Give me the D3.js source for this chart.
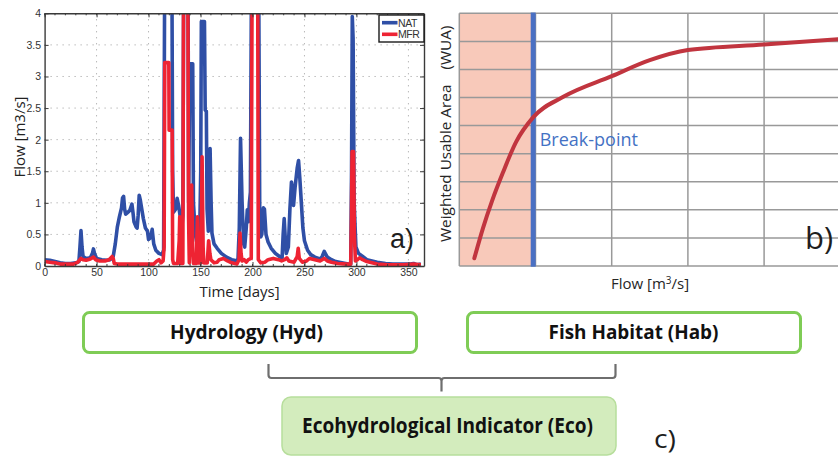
<!DOCTYPE html>
<html>
<head>
<meta charset="utf-8">
<script src="https://cdn.jsdelivr.net/npm/d3@7"></script>
<style>
  body { margin: 0; background: #fff; }
  svg { display: block; }
</style>
</head>
<body>
<svg id="fig" width="838" height="456"></svg>
<script>
// ---------- panel a) daily flow series, [day, m3/s] ----------
const natFlow = [
  [0,0.10],[5,0.09],[10,0.07],[15,0.05],[20,0.04],[25,0.04],[30,0.05],[33,0.07],[34,0.3],[35,0.56],[36,0.3],
  [37,0.15],[40,0.12],[44,0.13],[46,0.2],[47,0.27],[48,0.2],[50,0.12],[55,0.1],[60,0.09],[63,0.1],[66,0.15],
  [68,0.35],[70,0.62],[72,0.78],[74,0.92],[75,1.08],[76,1.1],[77,0.9],[78,0.82],[80,0.85],[82,0.88],[84,0.98],
  [85,0.85],[86,0.7],[88,0.62],[89,0.6],[90,0.8],[91,1.12],[92,1.05],[93,0.95],[95,0.75],[97,0.6],[99,0.55],
  [100,0.42],[102,0.45],[103.5,0.58],[105,0.35],[107,0.25],[110,0.2],[113,0.18],[114.5,0.25],[115.5,4.5],
  [122.5,4.5],[123.2,1.5],[124,0.85],[126,0.9],[127.5,1.07],[129,0.95],[131,0.72],[132,0.6],[133,0.8],
  [133.8,4.5],[138,4.5],[138.6,1.0],[139.3,2.5],[139.8,3.2],[142.5,3.2],[143.2,1.0],[145,0.5],[147,0.32],
  [149,0.3],[150.2,1.5],[150.8,3.87],[153.8,3.87],[154.5,2.47],[155.6,2.45],[156.3,0.9],[157.5,0.55],
  [159.2,1.86],[160.2,1.0],[161,0.52],[163,0.35],[166,0.28],[170,0.2],[175,0.14],[180,0.1],[186,0.08],
  [187.3,0.6],[188.5,2.02],[190,1.0],[191.5,0.35],[192.5,0.3],[194,0.6],[195,0.89],[196,0.7],[197,1.0],
  [198,1.17],[199,4.5],[206,4.5],[207,0.7],[208,0.46],[209,0.5],[210.5,0.92],[211.5,0.9],[213,0.5],
  [215,0.38],[218,0.28],[222,0.2],[226,0.15],[228.5,0.13],[229.5,0.5],[230.5,0.75],[231.5,0.45],[232.5,0.2],
  [234.5,0.3],[236,0.9],[237.5,1.33],[238.5,1.2],[239.5,0.96],[241,1.25],[243,1.55],[244.3,1.67],
  [245.5,1.4],[247,1.0],[248.5,0.6],[250,0.4],[253,0.25],[256,0.18],[260,0.14],[265,0.11],[267,0.15],
  [269,0.23],[270,0.2],[272,0.14],[276,0.1],[280,0.07],[286,0.05],[292,0.03],[294.5,0.03],[295.3,1.5],
  [296,3.95],[296.8,3.6],[297.8,1.0],[299.5,0.3],[302,0.2],[306,0.15],[310,0.1],[315,0.08],[320,0.06],
  [328,0.04],[335,0.03],[345,0.03],[352,0.03],[355,0.04],[358,0.02],[362,0.03]
];
const mfrFlow = [
  [0,0.07],[5,0.06],[10,0.05],[15,0.03],[20,0.03],[28,0.03],[32,0.06],[35,0.12],[37,0.1],[40,0.09],
  [44,0.11],[47,0.14],[49,0.1],[53,0.08],[58,0.08],[62,0.1],[65,0.15],[66,0.12],[67,0.04],[70,0.03],
  [90,0.03],[105,0.03],[108,0.08],[110,0.1],[112,0.05],[114,0.08],[115,0.3],[115.6,3.22],[119.5,3.22],
  [119.8,2.15],[122.7,2.15],[123.2,0.1],[124,0.04],[128,0.04],[129.5,0.4],[130,0.78],[130.5,0.3],[131,0.04],
  [133,0.04],[133.7,4.5],[137.8,4.5],[138.5,0.78],[139.2,0.05],[140.3,0.6],[141.5,1.28],[142.5,0.3],
  [143.2,0.04],[146,0.04],[147,0.78],[148,0.05],[150.5,0.05],[151.5,1.73],[152.5,0.3],[153.2,0.05],
  [156.5,0.05],[157.8,0.4],[159,0.2],[160,0.1],[163,0.05],[166,0.06],[168,0.1],[172,0.12],[176,0.08],
  [180,0.05],[185,0.03],[187,0.1],[188,0.52],[189,0.2],[190,0.08],[192,0.1],[194,0.06],[196,0.1],
  [198.8,0.12],[199.6,4.5],[205,4.5],[205.6,0.1],[208,0.05],[212,0.06],[215,0.1],[220,0.12],[225,0.1],
  [228,0.08],[231,0.1],[233,0.13],[235,0.08],[240,0.06],[243,0.15],[244,0.28],[245,0.12],[248,0.06],
  [252,0.08],[255,0.12],[260,0.1],[265,0.08],[269,0.12],[272,0.08],[276,0.06],[282,0.04],[290,0.03],
  [294.5,0.03],[295.2,0.8],[295.8,1.81],[297.2,1.81],[298,0.5],[299,0.08],[301,0.1],[303,0.13],[306,0.1],
  [310,0.07],[315,0.05],[320,0.03],[330,0.02],[345,0.02],[355,0.03],[362,0.02]
];
const seriesNames = ["NAT", "MFR"];
const dayTicks = [0, 50, 100, 150, 200, 250, 300, 350];
const dayMinorTicks = d3.range(0, 366, 10);
const flowTicks = [0, 0.5, 1, 1.5, 2, 2.5, 3, 3.5, 4];

// ---------- panel b) habitat curve, [flow units, WUA units] ----------
const habitatCurve = [
  [0.197,0.274],[0.311,1.352],[0.429,2.313],[0.570,3.310],[0.744,4.413],[0.971,5.302],
  [1.365,6.025],[2.0,6.76],[2.5,7.33],[3.0,7.69],[4.0,7.89],[4.97,8.08]
];
const breakPoint = 0.97;
const habitatFlowGrid = [0, 1, 2, 3, 4, 5];
const habitatWuaGrid = [0, 1, 2, 3, 4, 5, 6, 7, 8, 9];

// ---------- panel c) scheme labels ----------
const boxLabels = ["Hydrology (Hyd)", "Fish Habitat (Hab)", "Ecohydrological Indicator (Eco)"];

const svg = d3.select("#fig");
const NAT_COLOR = "#2f4fa6", MFR_COLOR = "#ee2333";

// ================= panel a =================
const ax = { left: 44.6, right: 424, top: 13.3, bottom: 266 };
const x = d3.scaleLinear().domain([0, 365]).range([ax.left, ax.right]);
const y = d3.scaleLinear().domain([0, 4]).range([ax.bottom, ax.top]);
const gA = svg.append("g").attr("class", "panel-a");

gA.append("clipPath").attr("id", "clipA")
  .append("rect").attr("x", ax.left).attr("y", ax.top)
  .attr("width", ax.right - ax.left).attr("height", ax.bottom - ax.top);

// dotted grid
const grid = gA.append("g").attr("stroke", "#9a9a9a").attr("stroke-width", 1)
  .attr("stroke-dasharray", "1,5");
grid.selectAll("line.gx").data(dayTicks.filter(d => d > 0)).join("line")
  .attr("x1", d => x(d)).attr("x2", d => x(d)).attr("y1", ax.top).attr("y2", ax.bottom);
grid.selectAll("line.gy").data(flowTicks.filter(d => d > 0 && d < 4)).join("line")
  .attr("x1", ax.left).attr("x2", ax.right).attr("y1", d => y(d)).attr("y2", d => y(d));

// series
const line = d3.line().x(d => x(d[0])).y(d => y(d[1]));
const lines = gA.append("g").attr("clip-path", "url(#clipA)").attr("fill", "none")
  .attr("stroke-width", 3.6).attr("stroke-linejoin", "round");
lines.append("path").datum(natFlow).attr("d", line).attr("stroke", NAT_COLOR);
lines.append("path").datum(mfrFlow).attr("d", line).attr("stroke", MFR_COLOR);

// axes
const fmt = d3.format("~g");
const axisStyle = g => {
  g.selectAll(".domain").attr("stroke", "#3a3a3a").attr("stroke-width", 1.4);
  g.selectAll(".tick line").attr("stroke", "#3a3a3a");
  g.selectAll("text").attr("fill", "#333").attr("font-family", "Liberation Sans, Arial, sans-serif")
    .attr("font-size", 10.5);
};
gA.append("g").attr("transform", `translate(0,${ax.bottom})`)
  .call(d3.axisBottom(x).tickValues(dayTicks).tickSize(-4).tickSizeOuter(0).tickPadding(2.5).tickFormat(fmt))
  .call(axisStyle);
gA.append("g").attr("transform", `translate(${ax.left},0)`)
  .call(d3.axisLeft(y).tickValues(flowTicks).tickSize(-4).tickSizeOuter(0).tickPadding(3.5).tickFormat(fmt))
  .call(axisStyle);
gA.append("g").attr("transform", `translate(0,${ax.top})`)
  .call(d3.axisTop(x).tickValues(dayTicks).tickSize(-4).tickSizeOuter(0).tickFormat(""))
  .call(axisStyle);
gA.append("g").attr("transform", `translate(${ax.right},0)`)
  .call(d3.axisRight(y).tickValues(flowTicks).tickSize(-4).tickSizeOuter(0).tickFormat(""))
  .call(axisStyle);
// minor ticks on the day axes
const minor = gA.append("g").attr("stroke", "#3a3a3a").attr("stroke-width", 1);
minor.selectAll("line.mt").data(dayMinorTicks).join("line")
  .attr("x1", d => x(d)).attr("x2", d => x(d)).attr("y1", ax.top).attr("y2", ax.top + 2);
minor.selectAll("line.mb").data(dayMinorTicks).join("line")
  .attr("x1", d => x(d)).attr("x2", d => x(d)).attr("y1", ax.bottom).attr("y2", ax.bottom - 2);

// axis titles
const labelFont = "'Open Sans', sans-serif";
gA.append("text").attr("x", 239.5).attr("y", 296.5).attr("text-anchor", "middle")
  .attr("font-family", labelFont).attr("font-size", 15).attr("fill", "#222").text("Time [days]");
gA.append("text").attr("transform", "translate(25,137) rotate(-90)").attr("text-anchor", "middle")
  .attr("font-family", labelFont).attr("font-size", 15).attr("fill", "#222").text("Flow [m3/s]");

// legend
const leg = gA.append("g").attr("transform", "translate(379,15)");
leg.append("rect").attr("width", 45).attr("height", 27).attr("fill", "#fff")
  .attr("stroke", "#1a1a1a").attr("stroke-width", 1.4);
[NAT_COLOR, MFR_COLOR].forEach((c, i) => {
  const yy = 7.7 + i * 11.6;
  leg.append("line").attr("x1", 3).attr("x2", 18.5).attr("y1", yy).attr("y2", yy)
    .attr("stroke", c).attr("stroke-width", 3.6);
  leg.append("text").attr("x", 19).attr("y", yy + 3.8)
    .attr("font-family", "Liberation Sans, Arial, sans-serif").attr("font-size", 10.5)
    .attr("letter-spacing", -0.4).attr("fill", "#333").text(seriesNames[i]);
});

gA.append("text").attr("x", 390).attr("y", 247.5)
  .attr("font-family", "Liberation Sans, Arial, sans-serif").attr("font-size", 27)
  .attr("fill", "#1e1e1e").text("a)");

// ================= panel b =================
const bx = { left: 459.3, right: 840.3, top: 13.3, bottom: 266 };
const xb = d3.scaleLinear().domain([0, 5]).range([bx.left, bx.right]);
const yb = d3.scaleLinear().domain([0, 9]).range([bx.bottom, bx.top]);
const gB = svg.append("g").attr("class", "panel-b");

gB.append("rect").attr("x", xb(0)).attr("y", bx.top)
  .attr("width", xb(breakPoint) - xb(0)).attr("height", bx.bottom - bx.top).attr("fill", "#f8c9ba");

const gridB = gB.append("g").attr("stroke", "#999").attr("stroke-width", 1.5);
gridB.selectAll("line.v").data(habitatFlowGrid).join("line")
  .attr("x1", d => xb(d)).attr("x2", d => xb(d)).attr("y1", bx.top).attr("y2", bx.bottom);
gridB.selectAll("line.h").data(habitatWuaGrid).join("line")
  .attr("x1", bx.left).attr("x2", bx.right).attr("y1", d => yb(d)).attr("y2", d => yb(d));

gB.append("line").attr("x1", xb(breakPoint)).attr("x2", xb(breakPoint))
  .attr("y1", bx.top - 0.7).attr("y2", bx.bottom + 0.7)
  .attr("stroke", "#4a70c3").attr("stroke-width", 5);

gB.append("path").datum(habitatCurve)
  .attr("d", d3.line().x(d => xb(d[0])).y(d => yb(d[1])).curve(d3.curveMonotoneX))
  .attr("fill", "none").attr("stroke", "#c1353f").attr("stroke-width", 4)
  .attr("stroke-linecap", "round");

gB.append("text").attr("x", xb(breakPoint) + 6.5).attr("y", 146)
  .attr("font-family", labelFont).attr("font-size", 18).attr("fill", "#4472c4").text("Break-point");

const wua = gB.append("text").attr("transform", "translate(450.5,242) rotate(-90)")
  .attr("font-family", labelFont).attr("font-size", 15.3).attr("fill", "#262626");
wua.append("tspan").text("Weighted Usable Area");
wua.append("tspan").attr("dx", 15).text("(WUA)");

const fl = gB.append("text").attr("x", 650).attr("y", 289).attr("text-anchor", "middle")
  .attr("font-family", labelFont).attr("font-size", 15).attr("fill", "#262626");
fl.append("tspan").text("Flow [m");
fl.append("tspan").attr("dy", -5.5).attr("font-size", 10).text("3");
fl.append("tspan").attr("dy", 5.5).text("/s]");

gB.append("text").attr("x", 805).attr("y", 249)
  .attr("font-family", labelFont).attr("font-size", 31).attr("fill", "#1e1e1e").text("b)");

// ================= panel c =================
const gC = svg.append("g").attr("class", "panel-c");
const boxes = [
  { x0: 82, x1: 418, y0: 311, y1: 354, w: 153 },
  { x0: 466, x1: 802, y0: 311, y1: 354, w: 170 }
];
boxes.forEach((b, i) => {
  gC.append("rect").attr("x", b.x0 + 1.5).attr("y", b.y0 + 1.5)
    .attr("width", b.x1 - b.x0 - 3).attr("height", b.y1 - b.y0 - 3).attr("rx", 6)
    .attr("fill", "#fff").attr("stroke", "#7fcc56").attr("stroke-width", 3);
  gC.append("text").attr("x", (b.x0 + b.x1) / 2 + (i === 0 ? -3.5 : -0.5)).attr("y", 339)
    .attr("text-anchor", "middle").attr("font-family", labelFont).attr("font-weight", 700)
    .attr("font-size", 19.5).attr("fill", "#111")
    .attr("textLength", b.w).attr("lengthAdjust", "spacingAndGlyphs").text(boxLabels[i]);
});

// bracket joining the two boxes
gC.append("path")
  .attr("d", "M268.5,364 V375 Q268.5,378 271.5,378 H438.5 Q441.5,378 441.5,381 V391.5 " +
             "M441.5,381 Q441.5,378 444.5,378 H612.5 Q615.5,378 615.5,375 V364")
  .attr("fill", "none").attr("stroke", "#6e6e6e").attr("stroke-width", 2.2);

gC.append("rect").attr("x", 282).attr("y", 397).attr("width", 334).attr("height", 58).attr("rx", 9)
  .attr("fill", "#d3ecbd").attr("stroke", "#b7de9c").attr("stroke-width", 1.5);
gC.append("text").attr("x", 447.5).attr("y", 433).attr("text-anchor", "middle")
  .attr("font-family", labelFont).attr("font-weight", 700).attr("font-size", 21).attr("fill", "#111")
  .attr("textLength", 291).attr("lengthAdjust", "spacingAndGlyphs").text(boxLabels[2]);

gC.append("text").attr("x", 654).attr("y", 448)
  .attr("font-family", labelFont).attr("font-size", 25).attr("fill", "#1e1e1e")
  .attr("textLength", 22).attr("lengthAdjust", "spacingAndGlyphs").text("c)");
</script>
</body>
</html>
